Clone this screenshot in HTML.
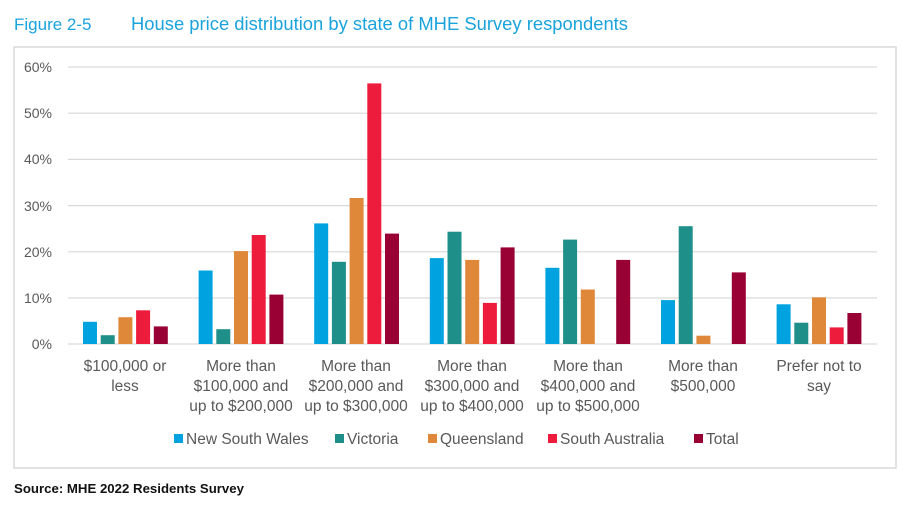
<!DOCTYPE html>
<html><head><meta charset="utf-8"><style>
body{margin:0;background:#fff;width:903px;height:507px;overflow:hidden;font-family:"Liberation Sans",sans-serif}
</style></head><body>
<svg width="903" height="507" xmlns="http://www.w3.org/2000/svg" font-family="Liberation Sans, sans-serif">
<text x="14" y="30" font-size="17" fill="#1aa3dc">Figure 2-5</text>
<text x="131" y="30" font-size="18" fill="#1aa3dc" textLength="497" lengthAdjust="spacingAndGlyphs">House price distribution by state of MHE Survey respondents</text>
<rect x="14" y="47" width="882" height="421" fill="#fff" stroke="#d9d9d9" stroke-width="1.5"/>
<g stroke="#d9d9d9" stroke-width="1.2">
<line x1="68" x2="877" y1="67" y2="67"/><line x1="68" x2="877" y1="113.2" y2="113.2"/>
<line x1="68" x2="877" y1="159.4" y2="159.4"/><line x1="68" x2="877" y1="205.6" y2="205.6"/>
<line x1="68" x2="877" y1="251.8" y2="251.8"/><line x1="68" x2="877" y1="298" y2="298"/>
<line x1="68" x2="877" y1="344" y2="344"/></g>
<g font-size="14" fill="#595959" text-anchor="end">
<text x="52" y="72">60%</text><text x="52" y="118">50%</text><text x="52" y="164">40%</text>
<text x="52" y="211">30%</text><text x="52" y="257">20%</text><text x="52" y="303">10%</text><text x="52" y="349">0%</text></g>
<g fill="#00a3e0">
<rect x="83" y="321.8" width="14" height="22.2"/><rect x="198.6" y="270.5" width="14" height="73.5"/>
<rect x="314.2" y="223.4" width="14" height="120.6"/><rect x="429.8" y="258.1" width="14" height="85.9"/>
<rect x="545.4" y="267.8" width="14" height="76.2"/><rect x="661" y="300.1" width="14" height="43.9"/>
<rect x="776.6" y="304.3" width="14" height="39.7"/></g>
<g fill="#1f8f8a">
<rect x="100.7" y="335.2" width="14" height="8.8"/><rect x="216.3" y="329.2" width="14" height="14.8"/>
<rect x="331.9" y="261.8" width="14" height="82.2"/><rect x="447.5" y="231.7" width="14" height="112.3"/>
<rect x="563.1" y="239.6" width="14" height="104.4"/><rect x="678.7" y="226.2" width="14" height="117.8"/>
<rect x="794.3" y="322.7" width="14" height="21.3"/></g>
<g fill="#e0883a">
<rect x="118.4" y="317.2" width="14" height="26.8"/><rect x="234" y="251.1" width="14" height="92.9"/>
<rect x="349.6" y="198" width="14" height="146"/><rect x="465.2" y="259.9" width="14" height="84.1"/>
<rect x="580.8" y="289.5" width="14" height="54.5"/><rect x="696.4" y="335.7" width="14" height="8.3"/>
<rect x="812" y="297.3" width="14" height="46.7"/></g>
<g fill="#ee1c3c">
<rect x="136.1" y="310.3" width="14" height="33.7"/><rect x="251.7" y="235" width="14" height="109"/>
<rect x="367.3" y="83.4" width="14" height="260.6"/><rect x="482.9" y="302.9" width="14" height="41.1"/>
<rect x="829.7" y="327.4" width="14" height="16.6"/></g>
<g fill="#990033">
<rect x="153.8" y="326.4" width="14" height="17.6"/><rect x="269.4" y="294.6" width="14" height="49.4"/>
<rect x="385" y="233.6" width="14" height="110.4"/><rect x="500.6" y="247.4" width="14" height="96.6"/>
<rect x="616.2" y="259.9" width="14" height="84.1"/><rect x="731.8" y="272.4" width="14" height="71.6"/>
<rect x="847.4" y="313" width="14" height="31"/></g>
<g font-size="15.5" fill="#595959" text-anchor="middle">
<text x="125" y="371">$100,000 or</text><text x="125" y="391">less</text>
<text x="241" y="371">More than</text><text x="241" y="391">$100,000 and</text><text x="241" y="411">up to $200,000</text>
<text x="356" y="371">More than</text><text x="356" y="391">$200,000 and</text><text x="356" y="411">up to $300,000</text>
<text x="472" y="371">More than</text><text x="472" y="391">$300,000 and</text><text x="472" y="411">up to $400,000</text>
<text x="588" y="371">More than</text><text x="588" y="391">$400,000 and</text><text x="588" y="411">up to $500,000</text>
<text x="703" y="371">More than</text><text x="703" y="391">$500,000</text>
<text x="819" y="371">Prefer not to</text><text x="819" y="391">say</text></g>
<g font-size="15.5" fill="#595959">
<rect x="174" y="434" width="9" height="9" fill="#00a3e0"/><text x="186" y="444">New South Wales</text>
<rect x="335" y="434" width="9" height="9" fill="#1f8f8a"/><text x="347" y="444">Victoria</text>
<rect x="428" y="434" width="9" height="9" fill="#e0883a"/><text x="440" y="444">Queensland</text>
<rect x="548" y="434" width="9" height="9" fill="#ee1c3c"/><text x="560" y="444">South Australia</text>
<rect x="694" y="434" width="9" height="9" fill="#990033"/><text x="706" y="444">Total</text></g>
<text x="14" y="493" font-size="13" font-weight="bold" fill="#111" textLength="230" lengthAdjust="spacingAndGlyphs">Source: MHE 2022 Residents Survey</text>
</svg>
</body></html>
